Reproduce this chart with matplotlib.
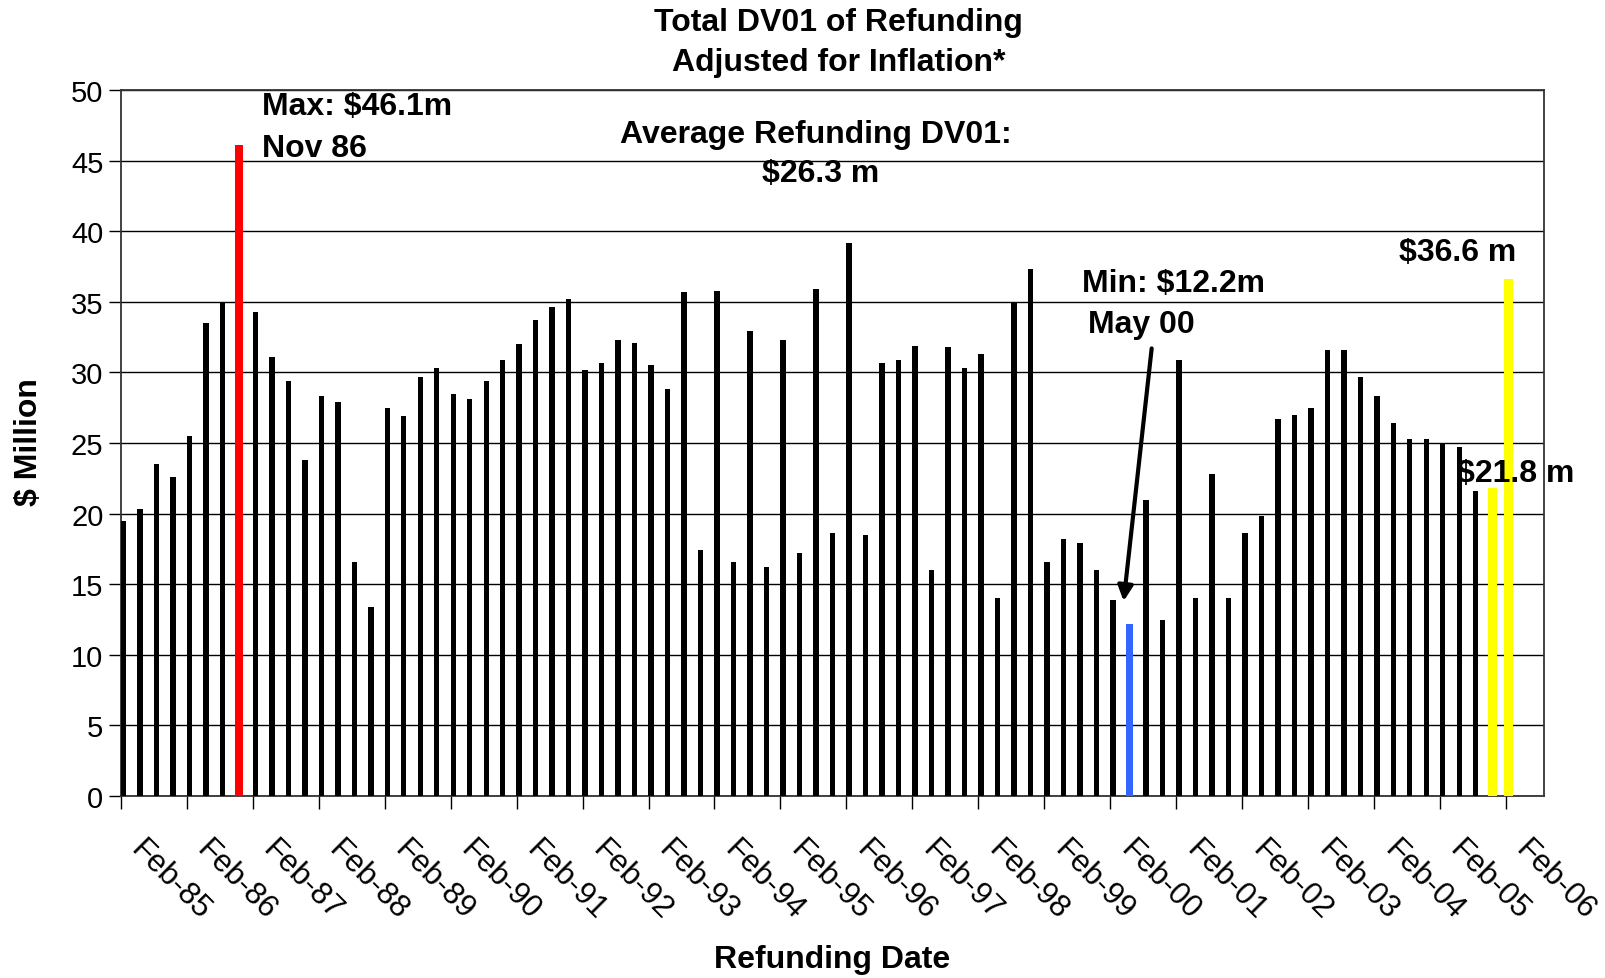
import numpy as np
import matplotlib.pyplot as plt
from matplotlib.transforms import ScaledTranslation

plt.rcParams['font.family'] = ['Liberation Sans', 'DejaVu Sans']

# quarterly refundings, Feb-85 .. Feb-06 ($ million, inflation adjusted)
dv01 = [19.5, 20.3, 23.5, 22.6, 25.5, 33.5, 34.9, 46.1, 34.3, 31.1, 29.4, 23.8,
        28.3, 27.9, 16.6, 13.4, 27.5, 26.9, 29.7, 30.3, 28.5, 28.1, 29.4, 30.9,
        32.0, 33.7, 34.6, 35.2, 30.2, 30.7, 32.3, 32.1, 30.5, 28.8, 35.7, 17.4,
        35.8, 16.6, 32.9, 16.2, 32.3, 17.2, 35.9, 18.6, 39.2, 18.5,
        30.7, 30.9, 31.9, 16.0, 31.8, 30.3, 31.3, 14.0, 35.0, 37.3, 16.6, 18.2,
        17.9, 16.0, 13.9, 12.2, 21.0, 12.5, 30.9, 14.0, 22.8, 14.0,
        18.6, 19.8, 26.7, 27.0, 27.5, 31.6, 31.6, 29.7, 28.3, 26.4, 25.3, 25.3,
        24.9, 24.7, 21.6, 21.8, 36.6]
tick_labels = [f"Feb-{y % 100:02d}" for y in range(1985, 2007)]
highlight = {7: '#ff0000', 61: '#3366ff', 83: '#ffff00', 84: '#ffff00'}
highlight_width = {7: 0.45, 61: 0.42, 83: 0.55, 84: 0.55}

x = np.arange(len(dv01))
colors = [highlight.get(i, 'black') for i in x]
widths = [highlight_width.get(i, 0.33) for i in x]

fig = plt.figure(figsize=(16.06, 9.79), dpi=100)
ax = fig.add_axes([0.0752, 0.1859, 0.8862, 0.7211])

ax.bar(x, dv01, width=widths, color=colors, zorder=3)

ax.set_ylim(0, 50)
ax.set_yticks(range(0, 51, 5))
ax.set_xlim(-0.16, 86.14)
ticks = np.arange(0, len(dv01), 4) - 0.16
ax.set_xticks(ticks)
ax.set_xticklabels([])
# rotated date labels, hanging down-right from each tick
lab_tr = ax.get_xaxis_transform() + ScaledTranslation(0.25, -0.38, fig.dpi_scale_trans)
for t, lab in zip(ticks, tick_labels):
    ax.text(t, 0, lab, transform=lab_tr, rotation=-45, ha='left', va='top',
            rotation_mode='anchor', fontsize=22.5)
ax.tick_params(axis='y', labelsize=21, length=9, width=1, direction='out')
ax.tick_params(axis='x', length=9, width=1, direction='out')
ax.yaxis.grid(True, color='black', lw=1)
ax.set_axisbelow(True)
for s in ax.spines.values():
    s.set_color('#333333')
    s.set_linewidth(1.3)

bold = dict(fontsize=23, fontweight='bold')
ax.text(8.42, 48.9, 'Max: $46.1m', ha='left', va='center', **bold)
ax.text(8.42, 45.9, 'Nov 86', ha='left', va='center', **bold)
ax.text(42.0, 46.9, 'Average Refunding DV01:', ha='center', va='center', **bold)
ax.text(42.3, 44.1, '$26.3 m', ha='center', va='center', **bold)
ax.text(58.1, 36.3, 'Min: $12.2m', ha='left', va='center', **bold)
ax.text(58.5, 33.4, 'May 00', ha='left', va='center', **bold)
ax.text(80.9, 38.5, '$36.6 m', ha='center', va='center', **bold)
ax.text(84.4, 22.9, '$21.8 m', ha='center', va='center', zorder=5, **bold)
ax.annotate('', xy=(60.65, 13.8), xytext=(62.35, 31.7),
            arrowprops=dict(arrowstyle='-|>,head_length=0.9,head_width=0.45',
                            color='black', lw=3, shrinkA=0, shrinkB=0))

fig.text(0.522, 0.977, 'Total DV01 of Refunding', ha='center', va='center', **bold)
fig.text(0.522, 0.936, 'Adjusted for Inflation*', ha='center', va='center', **bold)
fig.text(0.018, 0.548, '$ Million', rotation=90, ha='center', va='center', **bold)
fig.text(0.518, 0.019, 'Refunding Date', ha='center', va='center', **bold)

fig.savefig('out.png', dpi=100)
